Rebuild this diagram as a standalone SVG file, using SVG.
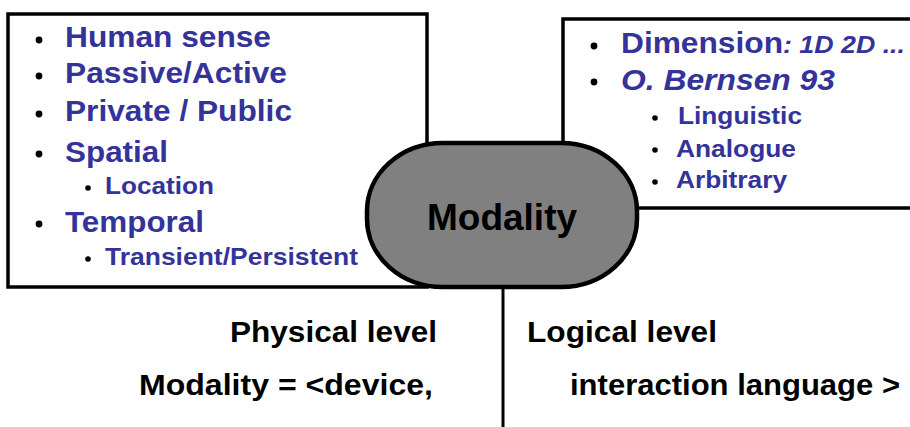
<svg xmlns="http://www.w3.org/2000/svg" width="910" height="427" viewBox="0 0 910 427">
<style>
.box{fill:#fff;stroke:#000;stroke-width:3.5}
.b{font-family:"Liberation Sans",Arial,sans-serif;font-weight:bold;fill:#333399}
.i{font-style:italic}
.k{font-family:"Liberation Sans Narrow","Liberation Sans",Arial,sans-serif;font-weight:bold;fill:#000}
.dot{fill:#000}
</style>
<rect width="910" height="427" fill="#fff"/>
<g id="left-box">
<rect class="box" x="8" y="14" width="419" height="273"/>
<circle class="dot" cx="39" cy="40" r="3.4"/>
<text class="b" x="65" y="47" font-size="29.5" textLength="206" lengthAdjust="spacingAndGlyphs">Human sense</text>
<circle class="dot" cx="39" cy="76" r="3.4"/>
<text class="b" x="65" y="83" font-size="29.5" textLength="222" lengthAdjust="spacingAndGlyphs">Passive/Active</text>
<circle class="dot" cx="39" cy="114" r="3.4"/>
<text class="b" x="65" y="121" font-size="29.5" textLength="227" lengthAdjust="spacingAndGlyphs">Private / Public</text>
<circle class="dot" cx="39" cy="154" r="3.4"/>
<text class="b" x="65" y="162" font-size="29.5" textLength="103" lengthAdjust="spacingAndGlyphs">Spatial</text>
<circle class="dot" cx="88" cy="188" r="2.8"/>
<text class="b" x="105" y="194" font-size="24.5" textLength="109" lengthAdjust="spacingAndGlyphs">Location</text>
<circle class="dot" cx="39" cy="224" r="3.4"/>
<text class="b" x="65" y="232" font-size="29.5" textLength="139" lengthAdjust="spacingAndGlyphs">Temporal</text>
<circle class="dot" cx="88" cy="259" r="2.8"/>
<text class="b" x="105" y="265" font-size="24.5" textLength="253" lengthAdjust="spacingAndGlyphs">Transient/Persistent</text>
</g>
<g id="right-box">
<rect class="box" x="563" y="19" width="360" height="189"/>
<circle class="dot" cx="594" cy="46" r="3.4"/>
<text class="b" x="621" y="53" font-size="29.5"><tspan textLength="162" lengthAdjust="spacingAndGlyphs">Dimension</tspan><tspan class="i" font-size="23" textLength="122" lengthAdjust="spacingAndGlyphs">: 1D 2D ...</tspan></text>
<circle class="dot" cx="594" cy="82" r="3.4"/>
<text class="b i" x="621" y="90" font-size="29.5" textLength="214" lengthAdjust="spacingAndGlyphs">O. Bernsen 93</text>
<circle class="dot" cx="655" cy="118" r="2.8"/>
<text class="b" x="678" y="124" font-size="24.5" textLength="124" lengthAdjust="spacingAndGlyphs">Linguistic</text>
<circle class="dot" cx="655" cy="150" r="2.8"/>
<text class="b" x="676" y="157" font-size="24.5" textLength="120" lengthAdjust="spacingAndGlyphs">Analogue</text>
<circle class="dot" cx="655" cy="182" r="2.8"/>
<text class="b" x="676" y="188" font-size="24.5" textLength="111" lengthAdjust="spacingAndGlyphs">Arbitrary</text>
</g>
<g id="connectors">
<line x1="503" y1="287" x2="503" y2="427" stroke="#000" stroke-width="3"/>
</g>
<g id="modality">
<rect x="367" y="143" width="270" height="144" rx="76" ry="68" fill="#808080" stroke="#000" stroke-width="4.5"/>
<text x="502" y="230" text-anchor="middle" font-family="Liberation Sans,Arial,sans-serif" font-weight="bold" font-size="37" fill="#000">Modality</text>
</g>
<g id="labels">
<text class="k" x="230" y="342" font-size="30" textLength="207" lengthAdjust="spacingAndGlyphs">Physical level</text>
<text class="k" x="527" y="342" font-size="30" textLength="190" lengthAdjust="spacingAndGlyphs">Logical level</text>
<text class="k" x="139" y="395" font-size="30" textLength="294" lengthAdjust="spacingAndGlyphs">Modality = &lt;device,</text>
<text class="k" x="570" y="395" font-size="30" textLength="330" lengthAdjust="spacingAndGlyphs">interaction language &gt;</text>
</g>
</svg>
